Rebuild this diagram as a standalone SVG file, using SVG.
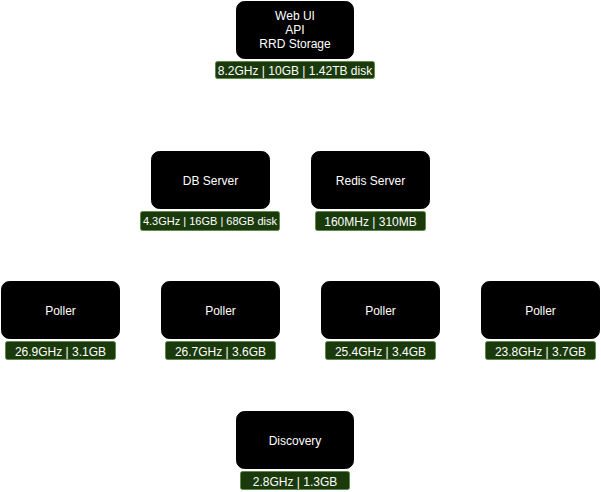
<svg xmlns="http://www.w3.org/2000/svg" width="601" height="492" viewBox="0 0 601 492">
<style>
.box{fill:#000;stroke:#000;stroke-width:1}
.lbl{fill:#1b3a0b;stroke:#5e8a4e;stroke-width:1}
.t{font-family:"Liberation Sans",Arial,sans-serif;font-size:12px;fill:#fff;text-anchor:middle}
.s{font-family:"Liberation Sans",Arial,sans-serif;font-size:12px;fill:#fff;text-anchor:middle}
</style>
<rect width="601" height="492" fill="#fff"/>
<g id="connectors"></g>
<g id="web">
<rect class="box" x="236.5" y="1.5" width="117" height="57" rx="8"/>
<text class="t" x="295" y="20">Web UI</text>
<text class="t" x="295" y="34">API</text>
<text class="t" x="295" y="48">RRD Storage</text>
<rect class="lbl" x="215.5" y="61.5" width="159" height="17" rx="2"/>
<text class="s" x="295" y="75">8.2GHz | 10GB | 1.42TB disk</text>
</g>
<g id="db">
<rect class="box" x="151.5" y="151.5" width="118" height="57" rx="8"/>
<text class="t" x="210.5" y="185">DB Server</text>
<rect class="lbl" x="140.5" y="211.5" width="139" height="19" rx="2"/>
<text class="s" x="210" y="225" style="font-size:11px">4.3GHz | 16GB | 68GB disk</text>
</g>
<g id="redis">
<rect class="box" x="311.5" y="151.5" width="118" height="57" rx="8"/>
<text class="t" x="370.5" y="185">Redis Server</text>
<rect class="lbl" x="315.5" y="211.5" width="110" height="19" rx="2"/>
<text class="s" x="370.5" y="225.5">160MHz | 310MB</text>
</g>
<g id="poller1">
<rect class="box" x="1.5" y="281.5" width="118" height="57" rx="8"/>
<text class="t" x="60.5" y="315">Poller</text>
<rect class="lbl" x="5.5" y="341.5" width="110" height="18" rx="2"/>
<text class="s" x="60.5" y="355.5">26.9GHz | 3.1GB</text>
</g>
<g id="poller2">
<rect class="box" x="161.5" y="281.5" width="118" height="57" rx="8"/>
<text class="t" x="220.5" y="315">Poller</text>
<rect class="lbl" x="165.5" y="341.5" width="110" height="18" rx="2"/>
<text class="s" x="220.5" y="355.5">26.7GHz | 3.6GB</text>
</g>
<g id="poller3">
<rect class="box" x="321.5" y="281.5" width="118" height="57" rx="8"/>
<text class="t" x="380.5" y="315">Poller</text>
<rect class="lbl" x="325.5" y="341.5" width="110" height="18" rx="2"/>
<text class="s" x="380.5" y="355.5">25.4GHz | 3.4GB</text>
</g>
<g id="poller4">
<rect class="box" x="481.5" y="281.5" width="118" height="57" rx="8"/>
<text class="t" x="540.5" y="315">Poller</text>
<rect class="lbl" x="485.5" y="341.5" width="110" height="18" rx="2"/>
<text class="s" x="540.5" y="355.5">23.8GHz | 3.7GB</text>
</g>
<g id="discovery">
<rect class="box" x="236.5" y="411.5" width="117" height="57" rx="8"/>
<text class="t" x="295" y="445">Discovery</text>
<rect class="lbl" x="240.5" y="471.5" width="109" height="18" rx="2"/>
<text class="s" x="295" y="485.5">2.8GHz | 1.3GB</text>
</g>
</svg>
